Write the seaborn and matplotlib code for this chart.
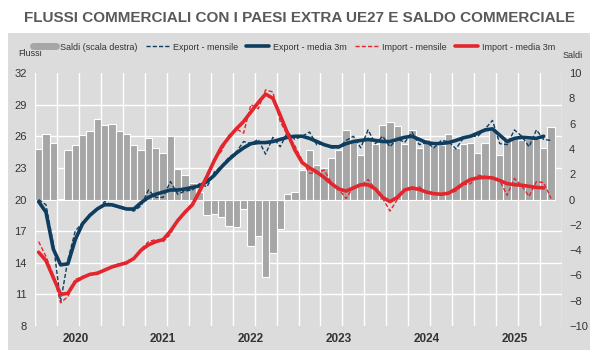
import numpy as np
import pandas as pd
import matplotlib
matplotlib.use("Agg")
import matplotlib.pyplot as plt
from matplotlib.lines import Line2D
from matplotlib.patches import Rectangle
from matplotlib.ticker import MultipleLocator, FixedLocator
import seaborn as sns

# Saldo commerciale (scala destra), mensile gen 2020 - nov 2025
saldi = [4.0, 5.2, 4.5, 0.05, 3.9, 4.3, 5.1, 5.4, 6.4, 5.9,
         6.0, 5.4, 5.2, 4.3, 3.9, 4.9, 4.1, 3.65, 5.0, 2.4,
         1.9, 1.3, 0.6, -1.2, -1.15, -1.4, -2.1, -2.2, -0.75, -3.7,
         -2.9, -6.15, -4.2, -2.3, 0.43, 0.6, 2.3, 3.9, 2.7, 2.5,
         3.3, 3.9, 5.5, 4.7, 3.5, 4.9, 4.4, 5.9, 6.15, 5.8,
         4.4, 5.5, 4.05, 4.8, 4.3, 4.3, 5.2, 4.05, 4.4, 4.5,
         3.7, 4.5, 5.5, 3.5, 4.75, 4.75, 4.7, 4.8, 4.75, 4.1, 5.75]

export_mensile = [20.0, 19.5, 15.8, 10.3, 14.3, 17.0, 17.8, 18.6, 19.0, 19.8,
                  19.5, 19.2, 19.1, 18.9, 19.4, 20.9, 20.2, 20.2, 21.7, 20.5,
                  20.8, 20.9, 21.5, 21.2, 22.6, 23.2, 24.0, 24.5, 25.5, 25.3,
                  25.7, 24.3, 25.9, 25.0, 26.4, 25.7, 26.0, 26.4, 25.2, 25.3,
                  24.9, 24.9, 25.6, 26.0, 24.9, 26.6, 25.3, 26.0, 25.0, 25.8,
                  25.4, 26.4, 25.2, 25.4, 24.9, 25.6, 25.5, 24.8, 25.8, 26.0,
                  26.0, 26.7, 27.5, 25.3, 25.2, 26.6, 26.0, 25.0, 26.6, 25.7, 25.6]

export_3m = [19.8, 18.8, 15.3, 13.8, 13.9, 16.2, 17.7, 18.5, 19.1, 19.5,
             19.5, 19.3, 19.1, 19.1, 19.7, 20.2, 20.5, 20.7, 20.9, 20.9,
             21.0, 21.15, 21.3, 21.7, 22.3, 23.1, 23.8, 24.4, 24.9, 25.3,
             25.4, 25.4, 25.5, 25.7, 25.9, 26.0, 26.0, 25.8, 25.5, 25.2,
             25.0, 25.0, 25.3, 25.5, 25.6, 25.7, 25.6, 25.5, 25.5, 25.7,
             25.9, 26.0, 25.7, 25.4, 25.3, 25.3, 25.4, 25.6, 25.85, 26.0,
             26.3, 26.6, 26.7, 26.1, 25.5, 25.8, 25.9, 25.85, 25.8, 26.0, np.nan]

import_mensile = [16.0, 14.6, 12.8, 10.2, 10.8, 12.4, 12.7, 12.9, 13.1, 13.3,
                  13.7, 13.9, 13.9, 14.4, 15.3, 16.0, 16.2, 16.0, 16.7, 18.1,
                  18.9, 19.6, 21.0, 22.4, 23.8, 24.6, 26.1, 26.7, 26.3, 29.0,
                  28.6, 30.4, 30.2, 27.4, 26.1, 25.1, 23.7, 22.5, 22.5, 22.8,
                  21.6, 21.0, 20.1, 21.2, 21.3, 21.9, 21.0, 20.1, 18.9, 20.0,
                  21.0, 20.9, 21.2, 20.6, 20.6, 20.4, 20.6, 20.8, 21.4, 21.5,
                  22.3, 22.2, 22.0, 21.8, 20.4, 22.0, 21.3, 20.3, 21.7, 21.6, 20.1]

import_3m = [15.0, 14.2, 12.6, 11.0, 11.1, 12.2, 12.6, 12.9, 13.0, 13.3,
             13.6, 13.8, 14.0, 14.4, 15.2, 15.7, 16.0, 16.2, 17.0, 18.0,
             18.8, 19.5, 20.8, 22.2, 23.7, 25.0, 25.9, 26.7, 27.4, 28.3,
             29.2, 30.0, 29.6, 28.0, 26.3, 24.7, 23.5, 23.0, 22.6, 22.1,
             21.5, 21.0, 20.8, 21.1, 21.4, 21.4, 21.0, 20.2, 19.8, 20.2,
             20.9, 21.1, 20.95, 20.7, 20.55, 20.5, 20.6, 21.0, 21.5, 21.9,
             22.05, 22.1, 22.05, 21.8, 21.5, 21.4, 21.35, 21.25, 21.15, 21.1, np.nan]

anni = ['2020', '2021', '2022', '2023', '2024', '2025']

BG = '#dcdcdc'
GRIGIO = '#a6a6a6'
BLU = '#0e3d5f'
ROSSO = '#e3262d'
TESTO = '#333333'

sns.set_theme(style="white")
plt.rcParams['font.family'] = ['Liberation Sans Narrow', 'Liberation Sans', 'DejaVu Sans']

mesi = pd.date_range("2020-01-01", periods=len(saldi), freq="MS")
df = pd.DataFrame({'mese': mesi, 'saldi': saldi,
                   'export_mensile': export_mensile, 'export_3m': export_3m,
                   'import_mensile': import_mensile, 'import_3m': import_3m})
df['t'] = (df['mese'].dt.year - 2020) * 12 + df['mese'].dt.month - 1

fig = plt.figure(figsize=(6, 3.6), dpi=100)
fig.patches.append(Rectangle((8/600, 10/360), 582/600, 317/360, transform=fig.transFigure,
                             facecolor=BG, edgecolor='none', zorder=-5))

# bars on the right scale
axb = fig.add_axes([35/600, 34/360, 527/600, 253/360])
axb.set_facecolor(BG)
sns.barplot(data=df, x='t', y='saldi', native_scale=True, width=1, color=GRIGIO,
            saturation=1, edgecolor='white', linewidth=0.8, errorbar=None, ax=axb)
axb.set_ylim(-10, 10)
axb.set_yticks(range(-10, 11, 2))
axb.yaxis.set_minor_locator(MultipleLocator(2.5))
axb.xaxis.set_minor_locator(FixedLocator(np.arange(-0.5, 72, 3)))
axb.grid(which='minor', color='white', lw=1)
axb.grid(which='major', visible=False)
axb.set_axisbelow(True)
axb.set_xlabel('')
axb.set_ylabel('')

# lines on the left scale
axl = axb.twinx()
sns.lineplot(data=df, x='t', y='export_mensile', color=BLU, lw=1, linestyle=(0, (3, 1.5)), ax=axl)
sns.lineplot(data=df, x='t', y='export_3m', color=BLU, lw=2.6, ax=axl)
sns.lineplot(data=df, x='t', y='import_mensile', color=ROSSO, lw=1, linestyle=(0, (3, 1.5)), ax=axl)
sns.lineplot(data=df, x='t', y='import_3m', color=ROSSO, lw=2.6, ax=axl)
axl.set_ylim(8, 32)
axl.set_yticks(range(8, 33, 3))
axl.yaxis.tick_left()
axb.yaxis.tick_right()
axl.set_xlabel('')
axl.set_ylabel('')

axb.set_xlim(-0.5, 71.5)
axb.set_xticks([5 + 12 * k for k in range(len(anni))])
axb.set_xticklabels(anni, fontweight='bold')

for ax in (axb, axl):
    for s in ax.spines.values():
        s.set_visible(False)
    ax.tick_params(which='both', length=0, labelsize=8, colors=TESTO)
axb.tick_params(axis='y', pad=5)
axl.tick_params(axis='y', pad=6)
axb.tick_params(axis='x', pad=5, labelsize=8.5)

handles = [Line2D([], [], color=GRIGIO, lw=5),
           Line2D([], [], color=BLU, lw=1, linestyle=(0, (3, 1.5))),
           Line2D([], [], color=BLU, lw=2.6),
           Line2D([], [], color=ROSSO, lw=1, linestyle=(0, (3, 1.5))),
           Line2D([], [], color=ROSSO, lw=2.6)]
labels = ['Saldi (scala destra)', 'Export - mensile', 'Export - media 3m',
          'Import - mensile', 'Import - media 3m']
fig.legend(handles, labels, loc='center', bbox_to_anchor=(294/600, 1 - 47/360), ncol=5,
           frameon=False, fontsize=6.5, handlelength=2.6, columnspacing=0.9,
           handletextpad=0.4, labelcolor=TESTO)

fig.text(18/600, 1 - 53/360, 'Flussi', fontsize=6.5, color=TESTO, va='center')
fig.text(563/600, 1 - 56/360, 'Saldi', fontsize=6.5, color=TESTO, va='center')
fig.text(0.5, 1 - 18/360, 'FLUSSI COMMERCIALI CON I PAESI EXTRA UE27 E SALDO COMMERCIALE',
         ha='center', va='center', fontsize=11, fontweight='bold', color='#595959')

fig.savefig('out.png', dpi=100)
